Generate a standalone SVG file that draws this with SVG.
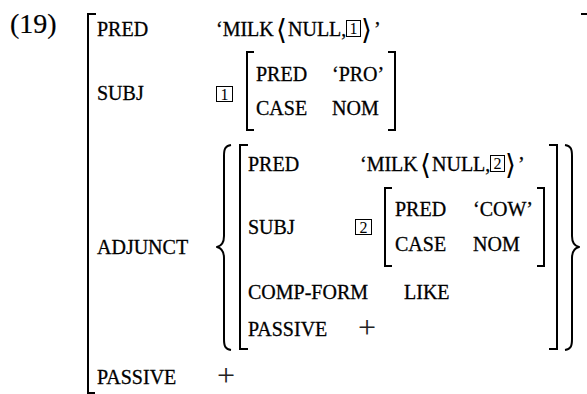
<svg xmlns="http://www.w3.org/2000/svg" width="587" height="394" viewBox="0 0 587 394">
  <style>
    text { font-family: "Liberation Serif", "Times New Roman", serif; font-size: 20px; fill: #000; stroke: #000; stroke-width: 0.3px; }
    .num { font-size: 28px; stroke-width: 0.2px; }
    .ang { font-family: "DejaVu Serif", "DejaVu Sans", serif; font-size: 28px; stroke-width: 0; }
    .tag { font-size: 16px; text-anchor: middle; stroke-width: 0; }
    .plus { font-size: 32px; fill: #222; stroke-width: 0; }
    .brk { fill: none; stroke: #000; stroke-width: 2; }
    .brace { fill: none; stroke: #000; stroke-width: 2; stroke-linejoin: round; }
    .box { fill: none; stroke: #000; stroke-width: 1; }
  </style>

  <!-- example number -->
  <text class="num" x="10" y="33">(19)</text>

  <!-- outer f-structure -->
  <g id="fs-outer">
    <path class="brk" d="M96,14 H88 V393 H95"/>
    <path class="brk" d="M581,14 H589 V394"/>
    <text x="97" y="36">PRED</text>
    <g id="pred-outer">
      <text x="216" y="36">‘MILK</text>
      <text class="ang" x="276" y="39">⟨</text>
      <text x="288" y="36">NULL,</text>
      <rect class="box" x="346.5" y="20.5" width="14" height="16"/>
      <text class="tag" x="353.5" y="34">1</text>
      <text class="ang" x="361" y="39">⟩</text>
      <text x="374" y="36">’</text>
    </g>
    <text x="97" y="100">SUBJ</text>
    <text x="97" y="254">ADJUNCT</text>
    <text x="97" y="384">PASSIVE</text>
    <text class="plus" x="217" y="386">+</text>
  </g>

  <!-- SUBJ of the outer structure -->
  <g id="fs-subj1">
    <rect class="box" x="216.5" y="86.5" width="16" height="15"/>
    <text class="tag" x="224.5" y="100">1</text>
    <path class="brk" d="M254,52 H247 V130 H254"/>
    <path class="brk" d="M388,52 H395 V130 H388"/>
    <text x="256" y="81">PRED</text>
    <text x="332" y="81">‘PRO’</text>
    <text x="256" y="115">CASE</text>
    <text x="332" y="115">NOM</text>
  </g>

  <!-- ADJUNCT set -->
  <g id="adjunct-set">
    <path class="brace" d="M231,145 C225,146 224,149 224,156 V236 C224,243 221,246 217,247 C221,248 224,251 224,258 V339 C224,346 225,349 231,350"/>
    <path class="brace" d="M565,145 C571,146 572,149 572,156 V236 C572,243 575,246 579,247 C575,248 572,251 572,258 V339 C572,346 571,349 565,350"/>
  </g>

  <!-- the adjunct f-structure -->
  <g id="fs-adjunct">
    <path class="brk" d="M248,145 H240 V349 H248"/>
    <path class="brk" d="M549,145 H557 V349 H549"/>
    <text x="248" y="171">PRED</text>
    <g id="pred-adjunct">
      <text x="360" y="171">‘MILK</text>
      <text class="ang" x="420" y="174">⟨</text>
      <text x="432" y="171">NULL,</text>
      <rect class="box" x="490.5" y="155.5" width="14" height="16"/>
      <text class="tag" x="497.5" y="169">2</text>
      <text class="ang" x="505" y="174">⟩</text>
      <text x="518" y="171">’</text>
    </g>
    <text x="248" y="234">SUBJ</text>
    <text x="248" y="299">COMP-FORM</text>
    <text x="404" y="299">LIKE</text>
    <text x="248" y="336">PASSIVE</text>
    <text class="plus" x="358" y="338">+</text>
  </g>

  <!-- SUBJ of the adjunct -->
  <g id="fs-subj2">
    <rect class="box" x="355.5" y="219.5" width="16" height="15"/>
    <text class="tag" x="363.5" y="233">2</text>
    <path class="brk" d="M392,188 H385 V266 H392"/>
    <path class="brk" d="M537,188 H544 V266 H537"/>
    <text x="395" y="216">PRED</text>
    <text x="473" y="216">‘COW’</text>
    <text x="395" y="251">CASE</text>
    <text x="473" y="251">NOM</text>
  </g>
</svg>
